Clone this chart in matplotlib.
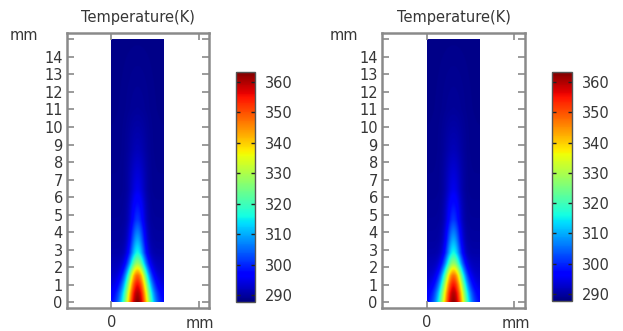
import numpy as np
import matplotlib
matplotlib.use("Agg")
import matplotlib.pyplot as plt

# ---- data ----
title = "Temperature(K)"
y_ticks = list(range(0, 15))
x_ticks = [0]
cbar_ticks = [290, 300, 310, 320, 330, 340, 350, 360]
vmin, vmax = 287.7, 363.3
domain_w, domain_h = 3.0, 15.0

# control heights (mm) for the temperature field
y_ctrl = [0.0, 0.5, 1.0, 1.5, 1.8, 2.2, 2.8, 3.5, 4.7, 6.4, 8.7, 11.0, 15.0]
# centerline temperatures, panel 1 and panel 2
tc_left = [363, 360, 355, 348, 340, 328, 316, 310, 301, 295, 291.5, 289.5, 288.5]
tc_right = [362, 359.5, 354.5, 347.5, 339.5, 327.5, 316, 310, 301, 295, 291.5, 289.5, 288.5]
# side-wall temperatures
te_left = [296, 295, 293.5, 292.5, 292, 291.5, 290.5, 290, 289.5, 289, 288.7, 288.5, 288.3]
te_right = [296, 295, 293.5, 292.5, 292, 291.5, 290.5, 290, 289.5, 289, 288.7, 288.5, 288.3]
# lateral spread (mm)
w_ctrl = [0.78, 0.74, 0.68, 0.61, 0.57, 0.52, 0.46, 0.43, 0.42, 0.45, 0.55, 0.7, 0.9]

text_color = "#363636"
spine_color = "#8a8a8a"


def field(tc, te):
    x = np.linspace(0, domain_w, 151)
    y = np.linspace(0, domain_h, 751)
    X, Y = np.meshgrid(x, y)
    Tc = np.interp(Y, y_ctrl, tc)
    Te = np.interp(Y, y_ctrl, te)
    W = np.interp(Y, y_ctrl, w_ctrl)
    d = X - domain_w / 2
    return Te + (Tc - Te) * np.exp(-(d / W) ** 2)


plt.rcParams['font.family'] = ['DejaVu Sans']
fig = plt.figure(figsize=(6.23, 3.31), dpi=100)
fs = 10.5

panels = [
    dict(ax=(67, 33, 209, 308), cb=(236, 72, 255, 302), tc=tc_left, te=te_left,
         mm_y=(10, 35), mm_x=(186, 323)),
    dict(ax=(382, 33, 525, 308), cb=(552, 72, 572, 301), tc=tc_right, te=te_right,
         mm_y=(330, 35), mm_x=(502, 323)),
]
W_, H_ = 623, 331


def rect(px):
    l, t, r, b = px
    return [l / W_, 1 - b / H_, (r - l) / W_, (b - t) / H_]


for p in panels:
    ax = fig.add_axes(rect(p["ax"]))
    T = field(p["tc"], p["te"])
    im = ax.imshow(T, origin="lower", extent=[0, domain_w, 0, domain_h],
                   cmap="jet", vmin=vmin, vmax=vmax, interpolation="bilinear",
                   aspect="equal")
    ax.set_xlim(-2.55, 5.6)
    ax.set_ylim(-0.34, 15.37)
    ax.set_aspect("auto")
    ax.set_yticks(y_ticks + [15])
    ax.set_yticklabels([str(v) for v in y_ticks] + [""])
    ax.set_xticks(x_ticks + [5])
    ax.set_xticklabels([str(v) for v in x_ticks] + [""])
    ax.tick_params(direction="in", length=5, width=1.2, color=spine_color,
                   labelcolor=text_color, labelsize=fs, top=True, right=True, pad=3)
    ax.tick_params(axis="x", pad=5)
    for s in ax.spines.values():
        s.set_color(spine_color)
        s.set_linewidth(1.8)
    ax.set_title(title, fontsize=fs, color=text_color, pad=8)
    fig.text(p["mm_y"][0] / W_, 1 - p["mm_y"][1] / H_, "mm", fontsize=fs,
             color=text_color, ha="left", va="center")
    fig.text(p["mm_x"][0] / W_, 1 - p["mm_x"][1] / H_, "mm", fontsize=fs,
             color=text_color, ha="left", va="center")

    cax = fig.add_axes(rect(p["cb"]))
    cb = fig.colorbar(im, cax=cax, ticks=cbar_ticks)
    cb.outline.set_edgecolor("#555555")
    cb.outline.set_linewidth(1.0)
    cax.tick_params(direction="in", length=3, width=1.0, color="#222222",
                    labelcolor=text_color, labelsize=fs, left=True, right=True, pad=7)

fig.savefig("out.png", dpi=100)
